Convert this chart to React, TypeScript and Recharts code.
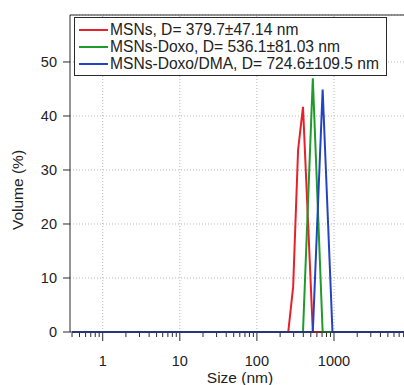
import { LineChart, Line, XAxis, YAxis, CartesianGrid, ReferenceLine } from 'recharts';

// ===== data (DLS volume distribution) =====
const SIZES = [0.4, 255, 295.3, 342, 396.1, 458.7, 531.2, 615.1, 712.4, 825, 955.4, 10000];
const MSN = [0, 0, 8.4, 33.7, 41.7, 21, 0, 0, 0, 0, 0, 0];
const MSN_DOXO = [0, 0, 0, 0, 0, 23.5, 47.0, 23.5, 0, 0, 0, 0];
const MSN_DOXO_DMA = [0, 0, 0, 0, 0, 0, 0, 22.4, 44.9, 22.4, 0, 0];

const SERIES = [
  { key: 'msn', name: 'MSNs, D= 379.7±47.14 nm', values: MSN, color: '#e8202a' },
  { key: 'doxo', name: 'MSNs-Doxo, D= 536.1±81.03 nm', values: MSN_DOXO, color: '#1f9a2c' },
  { key: 'dma', name: 'MSNs-Doxo/DMA, D= 724.6±109.5 nm', values: MSN_DOXO_DMA, color: '#2443c4' },
];

const Y_TICKS = [0, 10, 20, 30, 40, 50];
const X_MAJOR = [1, 10, 100, 1000];
const X_MINOR = [
  0.4, 0.5, 0.6, 0.7, 0.8, 0.9,
  2, 3, 4, 5, 6, 7, 8, 9,
  20, 30, 40, 50, 60, 70, 80, 90,
  200, 300, 400, 500, 600, 700, 800, 900,
  2000, 3000, 4000, 5000, 6000, 7000, 8000,
];
const X_TICKS = [...X_MINOR, ...X_MAJOR].sort((a, b) => a - b);

const X_DOMAIN = [0.3765, 8090];
const Y_MAX = 58.7;

const AXIS = '#2a2a2a';
const GRID = '#b8b8b8';
const FONT = '"Liberation Sans", Arial, sans-serif';

const rows = SIZES.map((s, i) => {
  const r: Record<string, number> = { size: s };
  SERIES.forEach((se) => { r[se.key] = se.values[i]; });
  return r;
});

function XTick(props: any) {
  const { x, y, payload } = props;
  const major = X_MAJOR.includes(payload.value);
  return (
    <g>
      <line x1={x} x2={x} y1={y + 1} y2={y + (major ? 9 : 5)} stroke={AXIS} strokeWidth={1} />
      {major && (
        <text x={x} y={y + 34} textAnchor="middle" fontSize={14.5} fill="#222" fontFamily={FONT}>
          {payload.value}
        </text>
      )}
    </g>
  );
}

export default function App() {
  return (
    <div style={{ position: 'absolute', left: 8, top: 8, width: 396, height: 377, fontFamily: FONT }}>
      <LineChart width={396} height={377} data={rows} margin={{ top: 7, right: 0, left: 0, bottom: 0 }}>
        <CartesianGrid vertical={false} stroke={GRID} strokeDasharray="1 2" />
        {X_MAJOR.map((v) => (
          <ReferenceLine key={v} x={v} stroke={GRID} strokeDasharray="1 2" />
        ))}
        <ReferenceLine y={Y_MAX} stroke={AXIS} />
        <XAxis
          dataKey="size"
          type="number"
          scale="log"
          domain={X_DOMAIN}
          allowDataOverflow
          ticks={X_TICKS}
          interval={0}
          tick={<XTick />}
          tickLine={false}
          tickSize={0}
          tickMargin={0}
          axisLine={{ stroke: AXIS }}
          height={53}
          label={{
            content: () => (
              <text x={232} y={375} textAnchor="middle" fontSize={15.5} fill="#222" fontFamily={FONT}>
                Size (nm)
              </text>
            ),
          }}
        />
        <YAxis
          type="number"
          domain={[0, Y_MAX]}
          ticks={Y_TICKS}
          width={62}
          tickSize={7}
          tickMargin={6}
          tickLine={{ stroke: AXIS }}
          axisLine={{ stroke: AXIS }}
          tick={{ fontSize: 14.5, fill: '#222', fontFamily: FONT }}
          label={{
            content: () => (
              <text
                x={9}
                y={182}
                transform="rotate(-90, 9, 182)"
                textAnchor="middle"
                dominantBaseline="central"
                fontSize={15.5}
                fill="#222"
                fontFamily={FONT}
              >
                Volume (%)
              </text>
            ),
          }}
        />
        {SERIES.map((se) => (
          <Line
            key={se.key}
            dataKey={se.key}
            name={se.name}
            type="linear"
            stroke={se.color}
            strokeWidth={2}
            dot={false}
            isAnimationActive={false}
          />
        ))}
      </LineChart>
      <div
        style={{
          position: 'absolute',
          left: 66,
          top: 9,
          width: 313,
          height: 59,
          border: `1px solid ${AXIS}`,
          background: '#fff',
          padding: '3px 0 0 4px',
          boxSizing: 'border-box',
        }}
      >
        {SERIES.map((se) => (
          <div key={se.key} style={{ display: 'flex', alignItems: 'center', height: 17, fontSize: 15.6, color: '#222', whiteSpace: 'nowrap' }}>
            <span style={{ width: 29, height: 2, background: se.color, marginRight: 2 }} />
            {se.name}
          </div>
        ))}
      </div>
    </div>
  );
}
